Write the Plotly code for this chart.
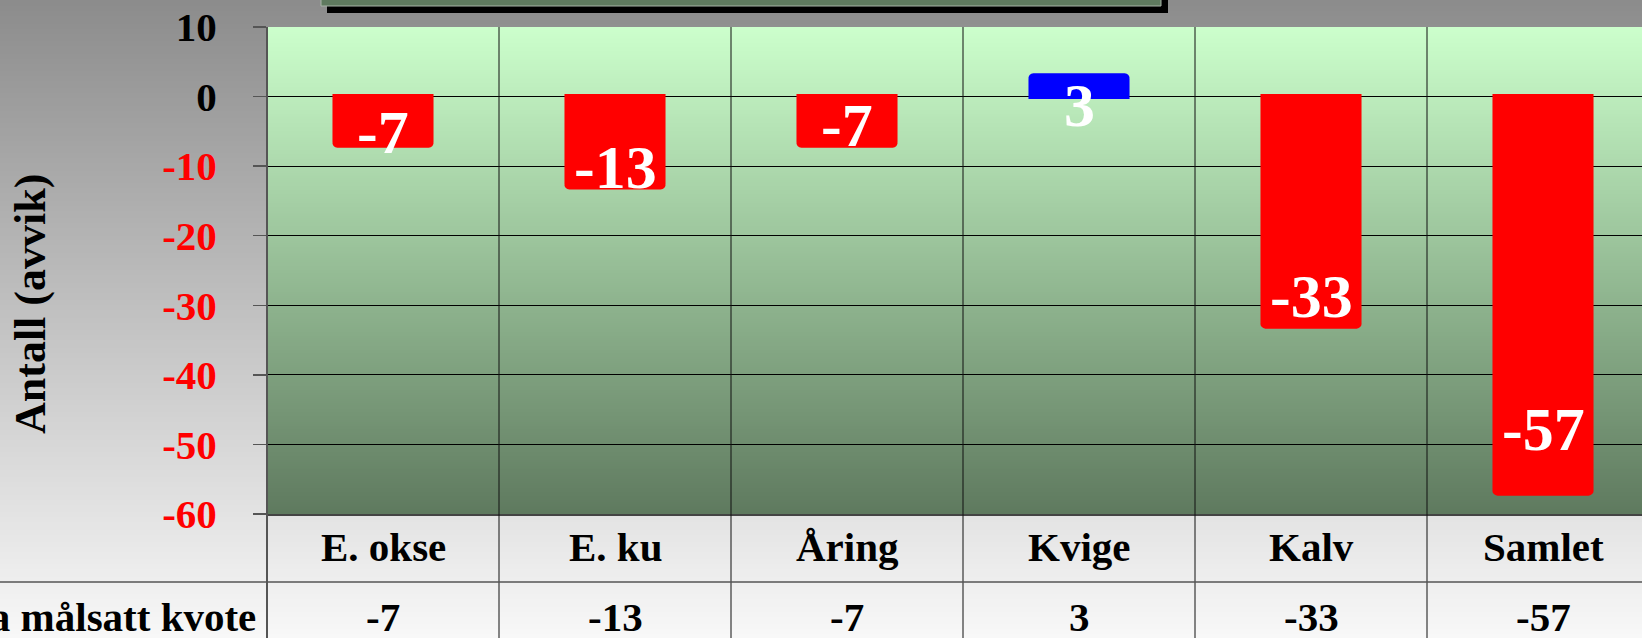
import zlib, struct, base64
import plotly.graph_objects as go

# ---------------- data ----------------
categories = ["E. okse", "E. ku", "Åring", "Kvige", "Kalv", "Samlet"]
values = [-7, -13, -7, 3, -33, -57]
y_ticks = [10, 0, -10, -20, -30, -40, -50, -60]
row_label = "Avvik fra målsatt kvote"
y_title = "Antall (avvik)"

# ---------------- style / layout ----------------
W, H = 1642, 638
ML, MR, MT, MB = 267, 0, 27, 124
PW, PH = W - ML - MR, H - MT - MB
X_RANGE = [-0.5, -0.5 + PW / 232.0]
Y_RANGE = [-60, 10]
FONT = "Liberation Serif"
label_shift = [13, 20, 20, -29, 30, 64]   # px offsets of the value labels from the bar ends


def px(xpix):
    return (xpix - ML) / PW


def py(ypix):
    return (H - MB - ypix) / PH


def png_gradient(top, bottom, n):
    rows = []
    for i in range(n):
        t = i / (n - 1)
        c = bytes(int(round(top[k] + (bottom[k] - top[k]) * t)) for k in range(3))
        rows.append(b"\x00" + c + c)
    raw = b"".join(rows)

    def chunk(tag, data):
        return (struct.pack(">I", len(data)) + tag + data
                + struct.pack(">I", zlib.crc32(tag + data) & 0xFFFFFFFF))

    png = (b"\x89PNG\r\n\x1a\n"
           + chunk(b"IHDR", struct.pack(">IIBBBBB", 2, n, 8, 2, 0, 0, 0))
           + chunk(b"IDAT", zlib.compress(raw))
           + chunk(b"IEND", b""))
    return "data:image/png;base64," + base64.b64encode(png).decode()


bar_colors = ["#ff0000" if v < 0 else "#0000ff" for v in values]

fig = go.Figure()
fig.add_trace(go.Bar(
    x=list(range(len(categories))), y=values,
    width=0.414,
    marker=dict(color=bar_colors, line=dict(color=bar_colors, width=5), cornerradius=3),
    hoverinfo="skip", showlegend=False,
))

annotations = []
# value labels on bars
for i, v in enumerate(values):
    annotations.append(dict(
        x=i, y=v, xref="x", yref="y", text=str(v), showarrow=False,
        yanchor="middle", yshift=label_shift[i],
        font=dict(family=FONT, size=62, color="white", weight="bold"),
    ))
# table: category row and value row
for i, (c, v) in enumerate(zip(categories, values)):
    annotations.append(dict(
        x=i, y=py(547), xref="x", yref="paper", text=c, showarrow=False,
        yanchor="middle", font=dict(family=FONT, size=41, color="black", weight="bold"),
    ))
    annotations.append(dict(
        x=i, y=py(617), xref="x", yref="paper", text=str(v), showarrow=False,
        yanchor="middle", borderpad=0,
        font=dict(family=FONT, size=41, color="black", weight="bold"),
    ))
annotations.append(dict(
    x=px(257), y=py(617), xref="paper", yref="paper", text=row_label, showarrow=False,
    xanchor="right", yanchor="middle", borderpad=0,
    font=dict(family=FONT, size=41, color="black", weight="bold"),
))
annotations.append(dict(
    x=px(31), y=py(304), xref="paper", yref="paper", text=y_title, showarrow=False,
    textangle=-90, xanchor="center", yanchor="middle",
    font=dict(family=FONT, size=44, color="black", weight="bold"),
))

shapes = []
# title box shadow + box (cut off at the top)
shapes.append(dict(type="rect", xref="paper", yref="paper",
                   x0=px(327), x1=px(1168), y0=py(13), y1=py(-20),
                   fillcolor="black", line=dict(width=0), layer="above"))
shapes.append(dict(type="rect", xref="paper", yref="paper",
                   x0=px(321), x1=px(1161), y0=py(6), y1=py(-20),
                   fillcolor="#5f7a5f", line=dict(color="#a8b4a8", width=1), layer="above"))
# vertical category boundaries (plot + table)
for k in range(len(categories) + 1):
    b = k - 0.5
    if b <= X_RANGE[0]:
        continue
    shapes.append(dict(type="line", xref="x", yref="paper", x0=b, x1=b,
                       y0=py(H + 2), y1=1, line=dict(color="#111111", width=1)))
# y axis line extended into the table
shapes.append(dict(type="line", xref="paper", yref="paper", x0=0, x1=0,
                   y0=py(H + 2), y1=1, line=dict(color="#555555", width=2)))
# table row separator
shapes.append(dict(type="line", xref="paper", yref="paper", x0=px(-2), x1=px(W + 2),
                   y0=py(582), y1=py(582), line=dict(color="#555555", width=1.5)))

images = [
    dict(source=png_gradient((140, 140, 140), (248, 248, 248), 256),
         xref="paper", yref="paper", x=px(0), y=py(0), sizex=W / PW, sizey=H / PH,
         xanchor="left", yanchor="top", sizing="stretch", layer="below"),
    dict(source=png_gradient((204, 255, 204), (95, 122, 95), 256),
         xref="paper", yref="paper", x=0, y=1, sizex=1, sizey=1,
         xanchor="left", yanchor="top", sizing="stretch", layer="below"),
]

tick_text = [str(t) if t >= 0 else "<span style='color:#ff0000'>%d</span>" % t for t in y_ticks]

fig.update_layout(
    width=W, height=H, autosize=False,
    margin=dict(l=ML, r=MR, t=MT, b=MB, pad=0),
    paper_bgcolor="#c0c0c0", plot_bgcolor="rgba(0,0,0,0)",
    bargap=0, showlegend=False,
    xaxis=dict(range=X_RANGE, showticklabels=False, showgrid=False, zeroline=False,
               showline=True, linecolor="#444444", linewidth=2, ticks="", fixedrange=True),
    yaxis=dict(range=Y_RANGE, tickvals=y_ticks, ticktext=tick_text,
               tickfont=dict(family=FONT, size=41, color="black", weight="bold"),
               showgrid=True, gridcolor="black", gridwidth=1, zeroline=False,
               showline=False, ticks="outside", ticklen=13, tickcolor="#555555", tickwidth=1.5,
               ticklabelstandoff=28, fixedrange=True),
    annotations=annotations, shapes=shapes, images=images,
)

fig.write_html(
    "out.html",
    config={"displayModeBar": False, "staticPlot": True},
    post_script="document.body.style.margin='0';document.body.style.overflow='hidden';",
)
